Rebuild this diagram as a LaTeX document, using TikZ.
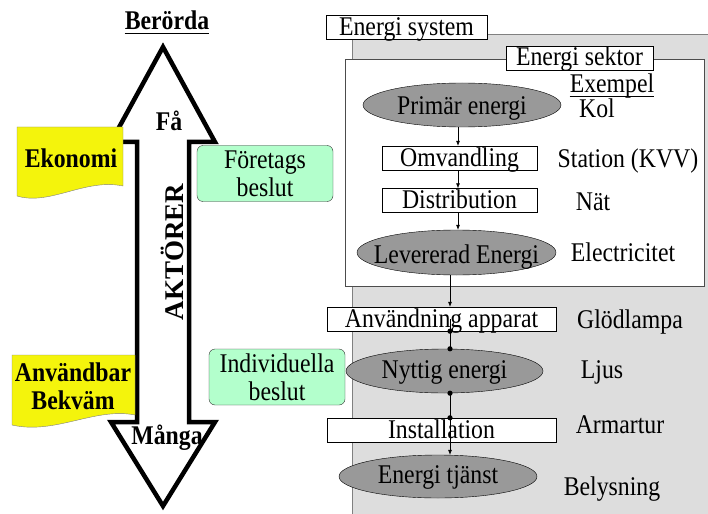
\documentclass[tikz,border=0pt]{standalone}
\usepackage{fontspec}
\setmainfont[FakeStretch=0.88]{Liberation Serif}
\newfontfamily\uprightserif{Liberation Serif}
\usetikzlibrary{arrows.meta,shapes.geometric}
\definecolor{noteyellow}{HTML}{F4F40C}
\definecolor{mint}{HTML}{B3FFCC}
\definecolor{sysgray}{HTML}{DDDDDD}
\definecolor{ovalgray}{HTML}{999999}

\begin{document}
\begin{tikzpicture}[x=1pt, y=-1pt,
  txt/.style={font=\fontsize{27}{28}\selectfont},
  bold/.style={font=\fontsize{27}{28}\selectfont\bfseries},
  box/.style={txt, draw, fill=white, inner sep=0pt, text height=20pt, text depth=4pt},
  oval/.style={ellipse, draw, fill=ovalgray, inner sep=0pt},
  decide/.style={txt, draw=black!80, fill=mint, rounded corners=6pt, minimum width=136pt, minimum height=56pt, align=center, inner sep=0pt},
  arr/.style={-{Latex[length=5pt,width=4pt]}, line width=0.6pt},
  link/.style={line width=0.6pt},
  uline/.style={line width=1.2pt}]
\useasboundingbox (0,0) rectangle (708,513);

% Energy system (gray) and energy sector (white)
\fill[sysgray] (352,34) rectangle (712,517);
\draw[gray] (352,517) -- (352,34) -- (712,34);
\node[box, minimum width=161pt] (esys) at (406.5,27.5) {Energi system};
\draw[black!70, fill=white] (345,59) rectangle (704,286);
\node[box, minimum width=147pt] (esek) at (579.5,58) {Energi sektor};

% Chain
\coordinate (upline) at (458,0);
\coordinate (lowline) at (450,0);
\node[oval, minimum width=198pt, minimum height=44pt] (prim) at (462,105) {};
\node[txt, anchor=base] (primtxt) at ([yshift=-10pt]prim.center) {Primär energi};
\node[box, minimum width=155pt] (omv) at (459.5,158) {Omvandling};
\node[box, minimum width=155pt] (dist) at (459.5,200.5) {Distribution};
\node[oval, minimum width=199pt, minimum height=45pt] (lev) at (456.5,252.5) {};
\node[txt, anchor=base] (levtxt) at ([yshift=-10.5pt]lev.center) {Levererad Energi};
\node[box, minimum width=229pt] (anv) at (441.5,319) {Användning apparat};
\node[oval, minimum width=197pt, minimum height=44pt] (nyt) at (444.5,371) {};
\node[txt, anchor=base] (nyttxt) at ([yshift=-7pt]nyt.center) {Nyttig energi};
\node[box, minimum width=229pt] (inst) at (441.5,430) {Installation};
\node[oval, minimum width=198pt, minimum height=43pt] (tjanst) at (438,476.5) {};
\node[txt, anchor=base] (tjantxt) at ([yshift=-6.5pt]tjanst.center) {Energi tjänst};

\draw[arr] (prim.south -| upline) -- (omv.north -| upline);
\draw[arr] (omv.south -| upline) -- (dist.north -| upline);
\draw[arr] (dist.south -| upline) -- (lev.north -| upline);
\draw[arr] (lev.south -| lowline) -- (anv.north -| lowline);
\draw[link] (anv.center -| lowline) -- (nyt.north -| lowline);
\draw[link] (nyt.south -| lowline) -- (inst.north -| lowline);
\draw[arr] (inst.north -| lowline) -- (tjanst.north -| lowline);
\foreach \p in {anv.south, nyt.north, nyt.south, inst.north}
  \fill (\p -| lowline) circle (2.6pt);

% Examples
\node[txt, anchor=base, inner sep=0pt, text height=16pt] (exempel) at (612,93) {Exempel};
\draw[uline] ([yshift=-3.5pt]exempel.base west) -- ([yshift=-3.5pt]exempel.base east);
\node[txt, anchor=base] (kol) at (597,118) {Kol};
\node[txt, anchor=base] (station) at (628,167) {Station (KVV)};
\node[txt, anchor=base] (nat) at (593,210) {Nät};
\node[txt, anchor=base] (el) at (623,261) {Electricitet};
\node[txt, anchor=base] (lampa) at (630,328) {Glödlampa};
\node[txt, anchor=base] (ljus) at (602,378) {Ljus};
\node[txt, anchor=base] (armatur) at (620,433) {Armartur};
\node[txt, anchor=base] (belys) at (612,495) {Belysning};

% Actors arrow
\draw[line width=4.5pt] (163,47) -- (215,142) -- (189,142) -- (189,422) -- (215,422)
  -- (163,506) -- (111,422) -- (137,422) -- (137,142) -- (111,142) -- cycle;
\node[bold, anchor=base, inner sep=0pt] (berorda) at (167,30) {Berörda};
\draw[uline] ([yshift=-3.5pt]berorda.base west) -- ([yshift=-3.5pt]berorda.base east);
\node[bold] (fa) at (169,121) {Få};
\node[font=\uprightserif\fontsize{27}{28}\selectfont\bfseries, rotate=90] (aktorer) at (172,252) {AKTÖRER};
\node[bold, anchor=base] (manga) at (167,444) {Många};

% Notes
\draw[gray, fill=noteyellow] (17,127) -- (123,127) -- (123,186)
  .. controls (85,178) and (50,206) .. (17,196) -- cycle;
\node[bold, anchor=base] (ekonomi) at (71,167) {Ekonomi};
\draw[gray, fill=noteyellow] (12,355) -- (135,355) -- (135,415)
  .. controls (95,407) and (55,435) .. (12,425) -- cycle;
\node[bold, align=center] (bekvam) at (73,386) {Användbar\\Bekväm};

% Decisions
\node[decide] (foretag) at (265,173.5) {Företags\\beslut};
\node[decide] (indiv) at (277,377) {Individuella\\beslut};
\end{tikzpicture}
\end{document}
